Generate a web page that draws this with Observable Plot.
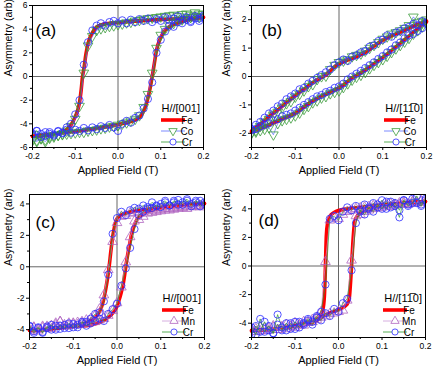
<!DOCTYPE html>
<html><head><meta charset="utf-8">
<script src="https://cdn.jsdelivr.net/npm/d3@7"></script>
<script src="https://cdn.jsdelivr.net/npm/@observablehq/plot@0.6"></script>
<style>
body{margin:0;background:#fff;}
#wrap{position:relative;width:436px;height:373px;background:#fff;}
.panel{position:absolute;}
</style></head><body><div id="wrap"></div>
<script>
// ---------- shared axes ----------
const fieldGrid = [-0.2,-0.19,-0.18,-0.17,-0.16,-0.15,-0.14,-0.13,-0.12,-0.11,-0.1,-0.09,-0.08,-0.07,-0.06,-0.05,-0.04,-0.03,-0.02,-0.01,0,0.01,0.02,0.03,0.04,0.05,0.06,0.07,0.08,0.09,0.1,0.11,0.12,0.13,0.14,0.15,0.16,0.17,0.18,0.19,0.2];
const xTicks = [-0.2,-0.1,0,0.1,0.2];
const xMinor = [-0.15,-0.05,0.05,0.15];

// ---------- panel (a) H//[001] : Fe, Co, Cr ----------
const feDownA = [[0.2,5.0],[0.15,4.9],[0.1,4.82],[0.05,4.7],[0,4.55],[-0.02,4.5],[-0.04,4.35],[-0.05,4.2],[-0.06,3.7],[-0.07,2.8],[-0.075,1.9],[-0.08,0.6],[-0.083,0],[-0.086,-1.1],[-0.09,-2.2],[-0.1,-3.4],[-0.11,-4.1],[-0.12,-4.5],[-0.13,-4.7],[-0.15,-4.9],[-0.2,-5.05]];
const feUpA = [[-0.2,-5.05],[-0.15,-4.87],[-0.1,-4.65],[-0.05,-4.4],[0,-4.05],[0.03,-3.8],[0.045,-3.58],[0.055,-3.25],[0.065,-2.45],[0.07,-1.8],[0.075,-1.0],[0.08,0],[0.085,1.1],[0.09,2.2],[0.1,3.3],[0.11,3.9],[0.12,4.2],[0.13,4.4],[0.15,4.65],[0.2,5.0]];
const coDownA = [-5.3,-5.4,-5.25,-5.5,-5.2,-5.1,-4.95,-4.85,-4.6,-4.2,-3.6,-2.5,0.3,2.6,3.4,3.9,4.05,4.15,4.25,4.3,4.4,4.45,4.55,4.6,4.7,4.75,4.85,4.9,4.95,5.0,5.05,5.1,5.15,5.2,5.1,5.25,5.3,5.2,5.4,5.3,5.25];
const coUpA = [-5.4,-5.5,-5.2,-5.35,-5.1,-5.0,-4.95,-4.9,-4.85,-4.8,-4.75,-4.7,-4.7,-4.6,-4.55,-4.5,-4.4,-4.35,-4.25,-4.2,-4.1,-4.0,-3.9,-3.75,-3.6,-3.3,-2.6,-1.5,0.3,2.4,3.5,4.0,4.3,4.5,4.7,4.8,4.9,5.0,5.1,5.0,5.1];
const crDownA = [-4.8,-4.6,-5.1,-4.7,-4.85,-5.0,-4.6,-4.75,-4.3,-4.0,-3.2,-2.0,1.0,2.9,3.9,4.3,4.5,4.3,4.6,4.7,4.5,4.75,4.5,4.8,4.6,4.85,4.7,4.9,4.6,4.85,4.7,5.0,4.75,4.9,5.1,4.8,5.0,4.7,5.1,4.9,5.15];
const crUpA = [-4.9,-4.6,-4.85,-5.0,-4.7,-4.9,-4.65,-4.8,-4.5,-4.75,-4.5,-4.6,-4.35,-4.55,-4.3,-4.45,-4.2,-4.35,-4.1,-4.3,-4.6,-4.0,-3.75,-3.9,-3.5,-3.3,-2.7,-1.9,-0.5,2.0,3.1,3.8,4.3,4.2,4.6,4.5,4.8,4.6,4.9,4.7,5.0];

// ---------- panel (b) H//[1-10] : Fe, Co, Cr ----------
const feDownB = [-1.92,-1.8,-1.68,-1.55,-1.42,-1.3,-1.18,-1.05,-0.92,-0.8,-0.68,-0.56,-0.45,-0.33,-0.22,-0.12,-0.03,0.05,0.2,0.35,0.45,0.52,0.58,0.64,0.7,0.77,0.85,0.95,1.07,1.18,1.28,1.36,1.43,1.5,1.56,1.62,1.7,1.77,1.84,1.9,1.95];
const feUpB = [-1.95,-1.9,-1.84,-1.77,-1.7,-1.63,-1.57,-1.5,-1.44,-1.37,-1.3,-1.2,-1.08,-0.96,-0.86,-0.78,-0.7,-0.63,-0.56,-0.48,-0.4,-0.3,-0.17,-0.05,0.03,0.12,0.22,0.33,0.45,0.56,0.67,0.79,0.91,1.04,1.17,1.3,1.42,1.55,1.68,1.8,1.92];
const coDownB = [-1.98,-1.9,-1.75,-1.6,-1.5,-1.35,-1.25,-1.1,-0.95,-0.88,-0.72,-0.62,-0.5,-0.35,-0.28,-0.1,0.0,0.02,0.25,0.4,0.5,0.55,0.6,0.7,0.75,0.8,0.9,1.0,1.1,1.2,1.32,1.4,1.5,1.55,1.62,1.7,1.8,2.1,1.9,1.95,2.0];
const coUpB = [-2.0,-1.95,-1.9,-1.85,-1.8,-2.05,-1.65,-1.55,-1.5,-1.45,-1.38,-1.28,-1.15,-1.05,-0.92,-0.85,-0.75,-0.7,-0.6,-0.55,-0.5,-0.38,-0.25,-0.12,-0.02,0.05,0.15,0.28,0.4,0.5,0.6,0.72,0.85,0.98,1.1,1.22,1.35,1.5,1.62,1.75,1.9];
const crDownB = [-1.85,-1.7,-1.6,-1.45,-1.3,-1.2,-1.05,-0.95,-0.8,-0.7,-0.6,-0.45,-0.4,-0.25,-0.15,-0.05,0.05,0.15,0.25,0.4,0.5,0.6,0.55,0.7,0.75,0.85,0.9,1.05,1.1,1.25,1.3,1.45,1.4,1.55,1.6,1.7,1.75,1.85,1.8,1.95,1.9];
const crUpB = [-1.9,-1.85,-1.75,-1.7,-1.65,-1.55,-1.5,-1.4,-1.35,-1.3,-1.2,-1.1,-1.0,-0.9,-0.8,-0.7,-0.65,-0.55,-0.5,-0.4,-0.35,-0.25,-0.1,0.0,0.1,0.2,0.3,0.4,0.5,0.62,0.72,0.85,0.95,1.1,1.2,1.35,1.45,1.5,1.6,1.7,1.85];

// ---------- panel (c) H//[001] : Fe, Mn, Cr ----------
const feDownC = [[-0.2,-4.05],[-0.15,-3.94],[-0.1,-3.78],[-0.08,-3.66],[-0.06,-3.42],[-0.05,-3.22],[-0.04,-2.85],[-0.033,-2.35],[-0.029,-1.9],[-0.025,-1.3],[-0.022,-0.8],[-0.018,0],[-0.014,1.0],[-0.01,1.9],[-0.006,2.5],[-0.002,2.95],[0.005,3.2],[0.02,3.4],[0.05,3.58],[0.1,3.78],[0.15,3.92],[0.2,4.04]];
const feUpC = [[-0.2,-4.05],[-0.15,-3.95],[-0.1,-3.8],[-0.06,-3.7],[-0.03,-3.4],[-0.015,-3.1],[-0.007,-2.85],[0,-2.5],[0.005,-2.1],[0.01,-1.6],[0.013,-1.27],[0.017,-0.6],[0.02,0],[0.024,0.7],[0.028,1.3],[0.032,1.9],[0.036,2.35],[0.042,2.8],[0.047,3.07],[0.06,3.35],[0.08,3.6],[0.1,3.72],[0.15,3.9],[0.2,4.02]];
const mnDownC = [-4.1,-3.9,-4.0,-3.8,-3.9,-3.75,-3.6,-3.5,-3.7,-3.6,-3.65,-3.55,-3.5,-3.4,-3.3,-3.1,-2.7,-1.8,-0.2,1.6,2.8,3.2,3.25,3.4,3.45,3.5,3.5,3.55,3.6,3.6,3.65,3.7,3.7,3.75,3.8,3.8,3.85,3.9,3.85,3.9,3.95];
const mnUpC = [-4.0,-3.85,-4.1,-3.9,-3.8,-3.95,-3.7,-3.5,-3.8,-3.75,-3.6,-3.7,-3.6,-3.65,-3.55,-3.5,-3.4,-3.3,-3.1,-2.8,-2.3,-1.3,0.3,1.9,2.9,3.0,3.2,3.4,3.45,3.5,3.55,3.6,3.6,3.65,3.7,3.75,3.7,3.8,3.85,3.8,3.9];
const crDownC = [-3.8,-4.2,-3.9,-4.15,-3.8,-4.0,-3.75,-3.95,-3.7,-3.9,-3.65,-3.85,-3.6,-3.5,-3.3,-3.0,-2.9,-2.2,-0.5,2.1,3.1,3.5,3.3,3.6,3.75,3.7,3.9,3.8,4.1,3.85,4.0,4.2,3.9,4.1,4.25,3.95,4.2,3.85,4.1,4.2,4.0];
const crUpC = [-3.75,-4.1,-3.85,-4.2,-3.9,-3.7,-4.0,-3.75,-3.9,-3.6,-3.85,-3.7,-3.5,-3.75,-3.6,-3.45,-3.3,-3.45,-3.0,-2.7,-2.35,-1.2,-0.1,1.2,2.4,3.3,3.5,3.7,3.75,3.9,3.8,4.1,3.9,4.2,3.95,4.1,4.3,4.0,4.2,3.85,4.1];

// ---------- panel (d) H//[1-10] : Fe, Mn, Cr ----------
const feDownD = [[-0.2,-4.5],[-0.15,-4.4],[-0.1,-4.16],[-0.07,-3.93],[-0.05,-3.7],[-0.04,-3.35],[-0.035,-2.9],[-0.032,-1.85],[-0.03,0],[-0.028,2.1],[-0.025,3.0],[-0.02,3.47],[-0.01,3.75],[0,3.88],[0.02,4.0],[0.05,4.1],[0.1,4.27],[0.15,4.41],[0.2,4.5]];
const feUpD = [[-0.2,-4.55],[-0.15,-4.42],[-0.1,-4.22],[-0.05,-3.8],[-0.03,-3.42],[0,-3.05],[0.02,-2.66],[0.025,-2.2],[0.028,-1.0],[0.03,0],[0.033,1.6],[0.036,2.8],[0.04,3.35],[0.05,3.7],[0.07,3.93],[0.1,4.16],[0.15,4.38],[0.2,4.5]];
const mnDownD = [-4.4,-4.6,-4.3,-4.5,-4.35,-4.2,-4.45,-4.3,-4.1,-4.25,-4.0,-4.15,-3.9,-3.95,-3.75,-3.6,-3.2,0.3,3.2,3.4,3.3,3.6,3.8,3.9,4.0,4.05,4.1,4.15,4.2,4.25,4.2,4.3,4.35,4.3,4.4,4.45,4.35,4.5,4.4,4.55,4.45];
const mnUpD = [-4.6,-4.4,-4.55,-4.35,-4.5,-4.3,-4.45,-4.25,-4.4,-4.2,-4.3,-4.1,-4.15,-3.95,-3.9,-3.75,-3.6,-3.5,-3.35,-3.3,-3.2,-3.1,-2.4,0.4,3.5,3.6,3.8,3.9,4.0,4.05,4.1,4.2,4.15,4.25,4.3,4.35,4.3,4.45,4.4,4.5,4.45];
const crDownD = [-4.8,-4.2,-4.6,-3.9,-4.5,-4.7,-3.4,-4.3,-4.5,-4.0,-4.4,-3.9,-4.1,-3.7,-3.9,-3.5,-3.2,-1.3,3.3,3.5,3.2,3.8,4.1,3.9,4.2,3.8,4.3,4.0,4.4,4.1,4.6,4.0,4.5,4.2,3.4,4.6,4.3,4.7,4.4,4.2,4.6];
const crUpD = [-4.3,-4.8,-3.7,-4.6,-4.2,-4.7,-4.1,-4.5,-4.0,-4.4,-3.9,-4.3,-4.0,-3.8,-4.1,-3.6,-3.8,-3.3,-3.5,-3.0,-3.2,-2.6,-2.3,-0.3,3.0,3.9,3.6,4.1,3.8,4.3,4.0,4.5,4.1,4.4,3.9,4.6,4.2,4.4,4.9,4.3,4.7];

// ---------- styles ----------
const FONT = "'Liberation Sans', Arial, sans-serif";
const sqrt3 = Math.sqrt(3);
const triangleDown = {
  draw(context, size) {
    const y = -Math.sqrt(size / (sqrt3 * 3));
    context.moveTo(0, -y * 2);
    context.lineTo(-sqrt3 * y, y);
    context.lineTo(sqrt3 * y, y);
    context.closePath();
  }
};
const styles = {
  Co: {symbol: triangleDown, d3sym: triangleDown, marker: "#3c9c3c", line: "#5a6cff", r: 3.6},
  Cr: {symbol: "circle", d3sym: d3.symbolCircle, marker: "#2b2bff", line: "#2f9a2f", r: 3.6},
  Mn: {symbol: "triangle", d3sym: d3.symbolTriangle, marker: "#b064c0", line: "#cc9ad8", r: 3.6}
};

const panels = [
  {letter: "(a)", left: 0, top: 0, width: 218, height: 186, ml: 32, mr: 15, mt: 5, mb: 39, labelDx: -24,
   yDomain: [-6, 6], yTicks: [-6,-4,-2,0,2,4,6], yMinor: [-5,-3,-1,1,3,5], letterDx: 3, letterDy: 18,
   header: "H//[001]", feDown: feDownA, feUp: feUpA,
   series: [{name: "Co", down: coDownA, up: coUpA}, {name: "Cr", down: crDownA, up: crUpA}]},
  {letter: "(b)", left: 218, top: 0, width: 218, height: 186, ml: 33, mr: 10, mt: 5, mb: 39, labelDx: -25,
   yDomain: [-2.5, 2.5], yTicks: [-2,-1,0,1,2], yMinor: [-2.5,-1.5,-0.5,0.5,1.5,2.5], letterDx: 10, letterDy: 18,
   header: "H//[11\u03050]", feDown: fieldGrid.map((x, i) => [x, feDownB[i]]), feUp: fieldGrid.map((x, i) => [x, feUpB[i]]),
   series: [{name: "Co", down: coDownB, up: coUpB}, {name: "Cr", down: crDownB, up: crUpB}]},
  {letter: "(c)", left: 0, top: 186, width: 218, height: 187, ml: 29, mr: 14, mt: 8, mb: 36, labelDx: -21,
   yDomain: [-4.5, 4.6], yTicks: [-4,-2,0,2,4], yMinor: [-3,-1,1,3], letterDx: 6, letterDy: 21,
   header: "H//[001]", feDown: feDownC, feUp: feUpC,
   series: [{name: "Mn", down: mnDownC, up: mnUpC}, {name: "Cr", down: crDownC, up: crUpC}]},
  {letter: "(d)", left: 218, top: 186, width: 218, height: 187, ml: 33, mr: 11, mt: 8, mb: 36, labelDx: -25,
   yDomain: [-5, 5], yTicks: [-4,-2,0,2,4], yMinor: [-5,-3,-1,1,3,5], letterDx: 7, letterDy: 19,
   header: "H//[11\u03050]", feDown: feDownD, feUp: feUpD,
   series: [{name: "Mn", down: mnDownD, up: mnUpD}, {name: "Cr", down: crDownD, up: crUpD}]}
];

const toRows = pairs => pairs.map(([x, y]) => ({x, y})).sort((a, b) => a.x - b.x);
const onGrid = arr => fieldGrid.map((x, i) => ({x, y: arr[i]}));

function drawPanel(cfg) {
  const marks = [
    Plot.ruleY([0], {stroke: "#666", strokeWidth: 1}),
    Plot.ruleX([0], {stroke: "#666", strokeWidth: 1}),
    Plot.line(toRows(cfg.feDown), {x: "x", y: "y", stroke: "#ff0000", strokeWidth: 3.6, curve: "monotone-x"}),
    Plot.line(toRows(cfg.feUp), {x: "x", y: "y", stroke: "#ff0000", strokeWidth: 3.6, curve: "monotone-x"})
  ];
  for (const s of cfg.series) {
    const st = styles[s.name];
    for (const arr of [s.down, s.up]) {
      const rows = onGrid(arr);
      marks.push(Plot.line(rows, {x: "x", y: "y", stroke: st.line, strokeWidth: 0.7, clip: true}));
      marks.push(Plot.dot(rows, {x: "x", y: "y", symbol: st.symbol, r: st.r, stroke: st.marker, strokeWidth: 0.8, fill: "none", clip: true}));
    }
  }
  marks.push(
    Plot.frame({stroke: "black", strokeWidth: 1}),
    Plot.axisX({ticks: xTicks, tickSize: 3, tickPadding: 2, tickFormat: d => d.toFixed(1), label: null, fontSize: 8.5}),
    Plot.axisX({ticks: xMinor, tickSize: 2, tickFormat: () => "", label: null}),
    Plot.axisY({ticks: cfg.yTicks, tickSize: 3, tickPadding: 2, tickFormat: d => String(d), label: null, fontSize: 8.5}),
    Plot.axisY({ticks: cfg.yMinor, tickSize: 2, tickFormat: () => "", label: null}),
    Plot.text(["Applied Field (T)"], {text: d => d, frameAnchor: "bottom", dy: 26, fontSize: 11}),
    Plot.text(["Asymmetry (arb)"], {text: d => d, frameAnchor: "left", dx: cfg.labelDx, rotate: -90, fontSize: 10.5}),
    Plot.text([cfg.letter], {text: d => d, frameAnchor: "top-left", dx: cfg.letterDx, dy: cfg.letterDy, fontSize: 17, textAnchor: "start"})
  );
  const svg = Plot.plot({
    width: cfg.width, height: cfg.height,
    marginLeft: cfg.ml, marginRight: cfg.mr, marginTop: cfg.mt, marginBottom: cfg.mb,
    x: {domain: [-0.2, 0.2]},
    y: {domain: cfg.yDomain},
    style: {fontFamily: FONT, fontSize: "8.5px", background: "white", overflow: "visible", color: "black"},
    marks
  });
  // in-frame legend (layout only)
  const fr = cfg.width - cfg.mr, fb = cfg.height - cfg.mb;
  const g = d3.select(svg).append("g").attr("font-family", FONT).attr("fill", "black");
  g.append("text").attr("x", fr - 3).attr("y", fb - 39).attr("text-anchor", "end")
    .attr("dominant-baseline", "central").attr("font-size", 11).text(cfg.header);
  const rows = [{name: "Fe"}, ...cfg.series];
  const rowY = [fb - 27, fb - 16, fb - 5];
  rows.forEach((r, i) => {
    const y = rowY[i], x0 = fr - 42, x1 = fr - 18;
    if (r.name === "Fe") {
      g.append("line").attr("x1", x0).attr("x2", x1).attr("y1", y).attr("y2", y)
        .attr("stroke", "#ff0000").attr("stroke-width", 3.6);
    } else {
      const st = styles[r.name];
      g.append("line").attr("x1", x0).attr("x2", x1).attr("y1", y).attr("y2", y)
        .attr("stroke", st.line).attr("stroke-width", 0.8);
      g.append("path").attr("transform", `translate(${(x0 + x1) / 2},${y})`)
        .attr("d", d3.symbol().type(st.d3sym).size(30)())
        .attr("fill", "white").attr("stroke", st.marker).attr("stroke-width", 0.8);
    }
    g.append("text").attr("x", fr - 16).attr("y", y).attr("dominant-baseline", "central")
      .attr("font-size", 10).text(r.name);
  });
  const div = document.createElement("div");
  div.className = "panel";
  div.style.left = cfg.left + "px";
  div.style.top = cfg.top + "px";
  div.appendChild(svg);
  document.getElementById("wrap").appendChild(div);
}

panels.forEach(drawPanel);
</script>
</body></html>
